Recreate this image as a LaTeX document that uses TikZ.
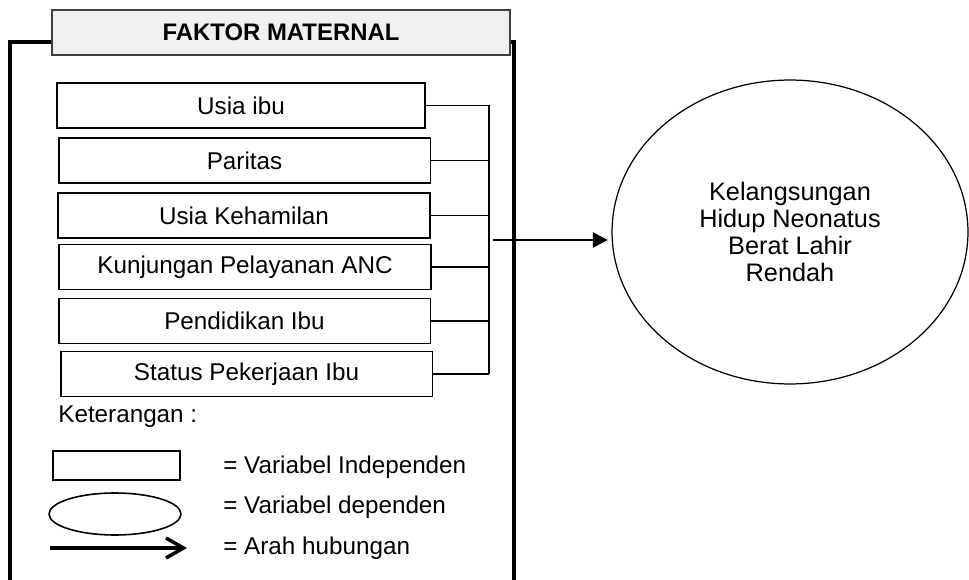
\documentclass[tikz,border=0pt]{standalone}
\usepackage{fontspec}
\setmainfont{Liberation Sans}
\usetikzlibrary{arrows.meta,positioning,shapes.geometric}

\begin{document}
\begin{tikzpicture}[
  x=0.02cm, y=-0.02cm,
  font=\fontsize{13.8}{15.3}\selectfont,
  var/.style={draw, line width=1.1pt, minimum width=7.44cm, minimum height=0.9cm, inner sep=0pt},
  txt/.style={anchor=west, inner sep=0pt},
  link/.style={line width=0.9pt},
  frame/.style={line width=2.5pt},
  arr/.style={-{Triangle[length=3mm,width=3mm]}, line width=1.3pt}
]
\useasboundingbox (0,0) rectangle (969,580);
% kerangka faktor maternal
\draw[frame] (52,42) -- (10,42) -- (10,580);
\draw[frame] (508,42) -- (514,42) -- (514,580);
\node[draw=black!75, fill=black!6, line width=0.8pt, minimum width=9.16cm, minimum height=0.9cm, font=\fontsize{13.6}{15.3}\selectfont\bfseries] (judul) at (281,32.5) {FAKTOR MATERNAL};

% variabel independen
\node[var, minimum width=7.36cm] (usia) at (241,105.5) {Usia ibu};
\node[var] (paritas) at (244.5,160.5) {Paritas};
\node[var] (hamil) at (244,215.5) {Usia Kehamilan};
\node[var] (anc) at (245,267) {Kunjungan Pelayanan ANC};
\node[var] (didik) at (244.5,321) {Pendidikan Ibu};
\node[var] (kerja) at (246.5,374) {Status Pekerjaan Ibu};

\coordinate (bus) at (489,0);
\foreach \n in {usia,paritas,hamil,anc,didik,kerja}
  \draw[link] (\n.east) -- (\n.east -| bus);
\draw[link] (usia.east -| bus) -- (kerja.east -| bus);

% variabel dependen
\node[draw, ellipse, line width=0.7pt, minimum width=7.12cm, minimum height=6.08cm, align=center, inner sep=0pt, font=\fontsize{14.4}{15.3}\selectfont] (hidup) at (790,232) {Kelangsungan\\Hidup Neonatus\\Berat Lahir\\Rendah};
\coordinate (pangkal) at (493,240);
\draw[arr, shorten >=2pt] (pangkal) -- (pangkal -| hidup.west);

% keterangan
\node[txt] (ket) at (58,417) {Keterangan :};
\node[draw, line width=1.1pt, minimum width=2.54cm, minimum height=0.58cm, inner sep=0pt] (lgkotak) at (116.5,465.5) {};
\node[txt] (lgindep) at (223,467) {= Variabel Independen};
\node[draw, ellipse, line width=0.9pt, minimum width=2.64cm, minimum height=0.84cm, inner sep=0pt] (lgelips) at (115,514) {};
\node[txt] (lgdep) at (223,507) {= Variabel dependen};
\coordinate (lgA) at (50,548);
\coordinate (lgB) at (187,548);
\draw[line width=2pt, -{Straight Barb[length=3.5mm,width=4mm]}] (lgA) -- (lgB);
\node[txt] (lgarah) at (223,548) {= Arah hubungan};
\end{tikzpicture}
\end{document}
